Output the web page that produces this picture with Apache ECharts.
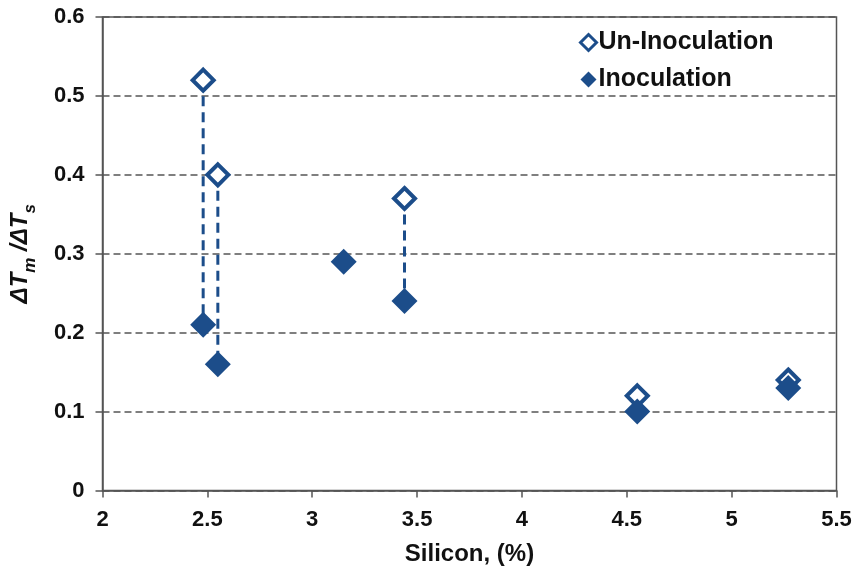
<!DOCTYPE html>
<html>
<head>
<meta charset="utf-8">
<script src="https://cdn.jsdelivr.net/npm/echarts@6/dist/echarts.min.js"></script>
<style>
  html, body { margin: 0; padding: 0; background: #fff; }
  #chart { width: 859px; height: 574px; }
</style>
</head>
<body>
<div id="chart"></div>
<script>
// Silicon content (%) and undercooling ratio for each melt
const siliconUn = [2.48, 2.55, 3.44, 4.55, 5.27];
const ratioUn = [0.52, 0.40, 0.37, 0.12, 0.14];
const siliconIn = [2.48, 2.55, 3.15, 3.44, 4.55, 5.27];
const ratioIn = [0.21, 0.16, 0.29, 0.24, 0.10, 0.13];
// [un-inoculated index, inoculated index] joined by a dashed drop line
const linkedPairs = [[0, 0], [1, 1], [2, 3]];
const xTicks = [2, 2.5, 3, 3.5, 4, 4.5, 5, 5.5];
const yTicks = [0, 0.1, 0.2, 0.3, 0.4, 0.5, 0.6];

const BLUE = '#1c4d8a';
const AXIS = '#555555';
const FONT = '"Liberation Sans", Arial, sans-serif';

const connectorSeries = linkedPairs.map(([u, i]) => ({
  type: 'line',
  data: [[siliconUn[u], ratioUn[u]], [siliconIn[i], ratioIn[i]]],
  symbol: 'none',
  lineStyle: { color: BLUE, width: 3, type: [10, 6] },
  z: 1,
  silent: true
}));

const chart = echarts.init(document.getElementById('chart'));
chart.setOption({
  animation: false,
  grid: {
    left: 102.5, right: 22.5, top: 17, bottom: 83.5,
    show: true, borderColor: AXIS, borderWidth: 1.5, backgroundColor: 'transparent'
  },
  legend: {
    data: [
      { name: 'Un-Inoculation', icon: 'diamond', itemStyle: { color: '#fff', borderColor: BLUE, borderWidth: 3 } },
      { name: 'Inoculation', icon: 'diamond' }
    ],
    orient: 'vertical',
    left: 574, top: 25,
    itemWidth: 16, itemHeight: 16, itemGap: 12,
    textStyle: { fontFamily: FONT, fontWeight: 'bold', fontSize: 25, color: '#111', padding: [0, 0, 0, -3] }
  },
  xAxis: {
    type: 'value',
    min: xTicks[0], max: xTicks[xTicks.length - 1], interval: 0.5,
    name: 'Silicon, (%)',
    nameLocation: 'middle', nameGap: 52,
    nameTextStyle: { fontFamily: FONT, fontWeight: 'bold', fontSize: 24, color: '#111' },
    axisLine: { lineStyle: { color: AXIS, width: 1.5 } },
    axisTick: { show: true, length: 7, lineStyle: { color: AXIS, width: 1.5 } },
    axisLabel: { fontFamily: FONT, fontWeight: 'bold', fontSize: 22, color: '#111', margin: 18,
      formatter: v => String(v) },
    splitLine: { show: false }
  },
  yAxis: {
    type: 'value',
    min: yTicks[0], max: yTicks[yTicks.length - 1], interval: 0.1,
    name: '{b|ΔT}{sm|m}{b| /ΔT}{ss|s}',
    nameLocation: 'middle', nameGap: 70, nameRotate: 90,
    nameTextStyle: {
      rich: {
        b: { fontFamily: FONT, fontWeight: 'bold', fontStyle: 'italic', fontSize: 24, color: '#111', verticalAlign: 'bottom' },
        sm: { fontFamily: FONT, fontWeight: 'bold', fontStyle: 'italic', fontSize: 17, color: '#111', verticalAlign: 'bottom', padding: [0, 0, -6, 0] },
        ss: { fontFamily: FONT, fontWeight: 'bold', fontStyle: 'italic', fontSize: 17, color: '#111', verticalAlign: 'bottom', padding: [0, 0, -6, 0] }
      }
    },
    axisLine: { show: true, lineStyle: { color: AXIS, width: 1.5 } },
    axisTick: { show: true, length: 7, lineStyle: { color: AXIS, width: 1.5 } },
    axisLabel: { fontFamily: FONT, fontWeight: 'bold', fontSize: 22, color: '#111', margin: 18,
      formatter: v => (v === 0 ? '0' : v.toFixed(1)) },
    splitLine: { show: true, lineStyle: { color: AXIS, width: 1.5, type: [7, 4] } }
  },
  series: [
    ...connectorSeries,
    {
      name: 'Un-Inoculation',
      type: 'scatter',
      data: siliconUn.map((x, k) => [x, ratioUn[k]]),
      symbol: 'diamond', symbolSize: 21,
      itemStyle: { color: '#fff', borderColor: BLUE, borderWidth: 4, opacity: 1 },
      z: 2
    },
    {
      name: 'Inoculation',
      type: 'scatter',
      data: siliconIn.map((x, k) => [x, ratioIn[k]]),
      symbol: 'diamond', symbolSize: 26,
      itemStyle: { color: BLUE, opacity: 1 },
      z: 3
    }
  ]
});
</script>
</body>
</html>
